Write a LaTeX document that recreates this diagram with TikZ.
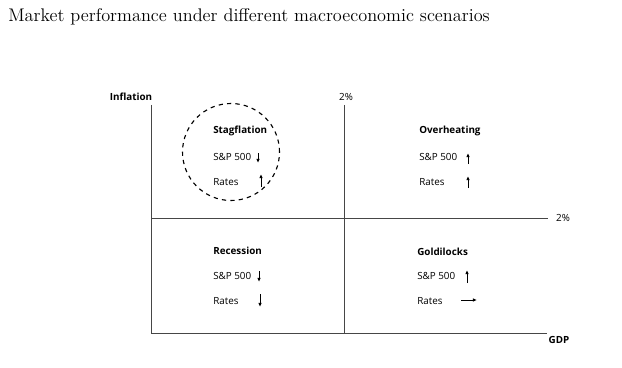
\documentclass[tikz,border=0pt]{standalone}
\usepackage{fontspec}
\newfontfamily\labfont{Open Sans}
\usetikzlibrary{arrows.meta}
\definecolor{axisgray}{RGB}{70,70,70}

\begin{document}
\begin{tikzpicture}[x=0.025cm,y=-0.025cm,
  ax/.style={draw=axisgray,line width=0.7pt},
  lab/.style={font=\labfont\fontsize{7}{8}\selectfont,inner sep=0pt,anchor=west},
  head/.style={lab,font=\labfont\bfseries\fontsize{7}{8}\selectfont},
  tick/.style={font=\labfont\fontsize{7}{8}\selectfont,inner sep=0pt},
  mv/.style={-{Latex[length=3pt,width=2.6pt]},line width=0.6pt}]
\useasboundingbox (0,0) rectangle (622,367);
\node[anchor=west,inner sep=0pt,font=\fontsize{13}{15}\selectfont](title) at (8,17){Market performance under different macroeconomic scenarios};
% axes
\coordinate (o) at (151,333);
\coordinate (top) at (151,105);
\coordinate (xend) at (547,333);
\coordinate (mtop) at (344,105);
\coordinate (mbot) at (344,333);
\coordinate (ml) at (151,218);
\coordinate (mr) at (548,218);
\draw[ax](top)--(o)--(xend);
\draw[ax](mtop)--(mbot);
\draw[ax](ml)--(mr);
\node[tick,font=\labfont\bfseries\fontsize{7}{8}\selectfont](infl) at (131,97){Inflation};
\node[tick,font=\labfont\bfseries\fontsize{7}{8}\selectfont](gdp) at (559,340){GDP};
\node[tick](tv) at (346,97){2\%};
\node[tick](th) at (563,218){2\%};
% quadrants
\node[draw,dashed,circle,line width=0.8pt,minimum size=97*0.025cm](ring) at (231,152){};
\node[head](sg) at (213,131){Stagflation};
\node[lab](sg1) at (213,157){S\&P 500};
\node[lab](sg2) at (213,182){Rates};
\draw[mv](258,153)--(258,163);
\draw[mv](261,187)--(261,174);
\node[head](oh) at (419,131){Overheating};
\node[lab](oh1) at (419,157){S\&P 500};
\node[lab](oh2) at (419,182){Rates};
\draw[mv](468,164)--(468,153);
\draw[mv](468,188)--(468,176);
\node[head](rc) at (213,251){Recession};
\node[lab](rc1) at (213,276){S\&P 500};
\node[lab](rc2) at (213,301){Rates};
\draw[mv](259,271)--(259,282);
\draw[mv](260,294)--(260,307);
\node[head](gl) at (417,252){Goldilocks};
\node[lab](gl1) at (417,276){S\&P 500};
\node[lab](gl2) at (417,301){Rates};
\draw[mv](467,283)--(467,270);
\draw[mv](461,300)--(477,300);
\end{tikzpicture}
\end{document}
